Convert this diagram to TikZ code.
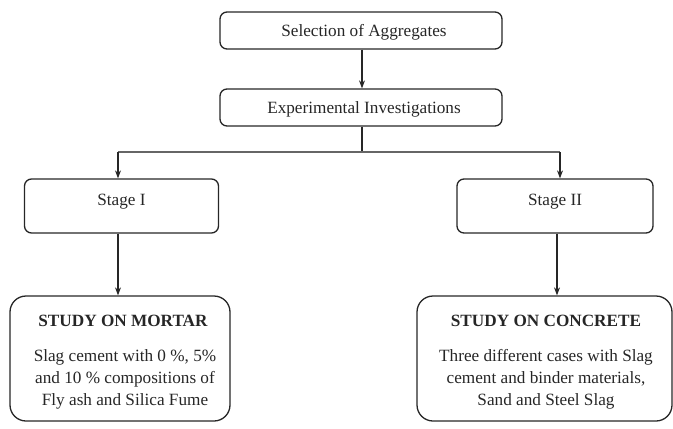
\documentclass[tikz,border=0pt]{standalone}
\usepackage{fontspec}
\setmainfont{Liberation Serif}
\usetikzlibrary{arrows.meta}
\begin{document}
\begin{tikzpicture}[x=1pt,y=-1pt,
  box/.style={draw=black!85, line width=1.3pt, rounded corners=7pt, inner sep=0pt},
  bigbox/.style={draw=black!85, line width=1.3pt, rounded corners=16pt, inner sep=0pt},
  txt/.style={font=\fontsize{17.2}{22}\selectfont, inner sep=0pt, align=center, text=black!85},
  conn/.style={draw=black!85, line width=1.1pt},
  arr/.style={conn, -{Stealth[length=8pt,width=6pt]}}]
\useasboundingbox (0,0) rectangle (673,429);
\node[box, minimum width=282pt, minimum height=37pt] (b1) at (361,30.5) {};
\node[txt, anchor=base] (t1) at (364,36) {Selection of Aggregates};
\node[box, minimum width=282pt, minimum height=37pt] (b2) at (361,107.5) {};
\node[txt, anchor=base] (t2) at (364,113) {Experimental Investigations};
\node[box, minimum width=194pt, minimum height=54pt] (s1) at (121.5,206) {};
\node[txt, anchor=base] (ts1) at (121.5,205) {Stage I};
\node[box, minimum width=196pt, minimum height=54pt] (s2) at (555,206) {};
\node[txt, anchor=base] (ts2) at (555,205) {Stage II};
\node[bigbox, minimum width=220pt, minimum height=125pt] (m) at (120,358.5) {};
\node[txt, anchor=base, font=\fontsize{17.2}{22}\selectfont\bfseries] (mt) at (123,326) {STUDY ON MORTAR};
\node[txt, anchor=base] (mb) at (125,361) {Slag cement with 0 \%, 5\%};
\node[txt, anchor=base] (mb2) at (125,383) {and 10 \% compositions of};
\node[txt, anchor=base] (mb3) at (125,405) {Fly ash and Silica Fume};
\node[bigbox, minimum width=255pt, minimum height=125pt] (c) at (544.5,358.5) {};
\node[txt, anchor=base, font=\fontsize{17.2}{22}\selectfont\bfseries] (ct) at (546,326) {STUDY ON CONCRETE};
\node[txt, anchor=base] (cb) at (546,361) {Three different cases with Slag};
\node[txt, anchor=base] (cb2) at (546,383) {cement and binder materials,};
\node[txt, anchor=base] (cb3) at (546,405) {Sand and Steel Slag};
\coordinate (j) at (362,152);
\draw[arr] ([xshift=1pt]b1.south) -- ([xshift=1pt]b2.north);
\draw[conn] ([xshift=1pt]b2.south) -- (j);
\draw[conn, draw=black!60] (j) -- (118,152) coordinate (jl);
\draw[conn, draw=black!60] (j) -- (560,152) coordinate (jr);
\draw[arr] (jl) -- (jl |- s1.north);
\draw[arr] (jr) -- (jr |- s2.north);
\draw[arr] (jl |- s1.south) -- (jl |- m.north);
\draw[arr] ([xshift=2pt]s2.south) -- ([xshift=2pt]s2.south |- c.north);
\end{tikzpicture}
\end{document}
